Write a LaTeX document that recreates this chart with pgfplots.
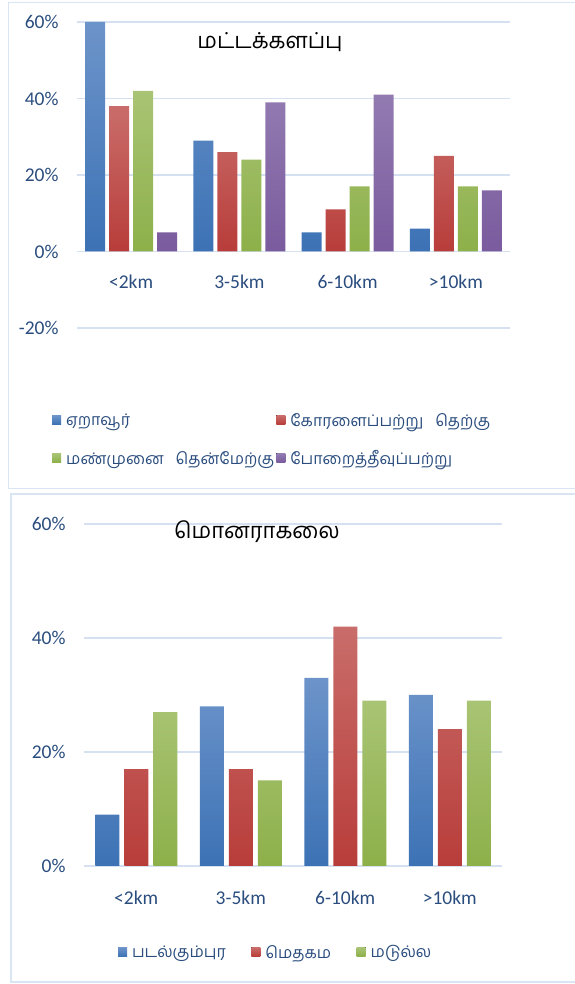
\documentclass[border=0pt]{standalone}
\usepackage{pgfplots}
\pgfplotsset{compat=1.18}
\usepackage{fontspec}
\setmainfont{Carlito}
\newfontfamily\tamilfont[Script=Tamil]{Hind Madurai}
\definecolor{tickcol}{HTML}{2A4D7E}
\definecolor{gridcol}{HTML}{D5E1F1}
\definecolor{bordercol}{HTML}{DAE5F4}
\definecolor{bluet}{HTML}{6D94CA}\definecolor{blueb}{HTML}{3C72B5}
\definecolor{redt}{HTML}{C96D6A}\definecolor{redb}{HTML}{B83D3A}
\definecolor{greent}{HTML}{A9C474}\definecolor{greenb}{HTML}{8DB04A}
\definecolor{purt}{HTML}{927BB1}\definecolor{purb}{HTML}{7A5B9E}
\pgfplotsset{
  sqlegend/.style={legend image code/.code={\fill[##1] (0pt,-4pt) rectangle (9pt,5pt);}},
  excel/.style={
    scale only axis,
    xmin=-0.5, xmax=3.5,
    axis line style={draw=none}, major tick length=0pt,
    xtick={0,1,2,3}, xticklabels={<2km,3-5km,6-10km,>10km},
    ymajorgrids, grid style={gridcol, line width=1.3pt},
    tick label style={font=\fontsize{19.5}{23}\selectfont, text=tickcol},
    yticklabel style={xshift=-15pt},
    legend cell align=left,
  }
}
\begin{document}
\begin{tikzpicture}
\path (0pt,0pt) rectangle (574pt,984pt);
\draw[overlay, bordercol, line width=1.5pt] (8.5pt,981.5pt) rectangle (590pt,495.5pt);
\draw[overlay, bordercol, line width=1.5pt] (11pt,490pt) rectangle (590pt,2pt);

\begin{axis}[excel,
  at={(77pt,656pt)}, anchor=south west, width=433pt, height=306pt,
  ymin=-20, ymax=60,
  ybar=4pt, bar width=20pt,
  ytick={-20,0,20,40,60}, yticklabels={-20\%,0\%,20\%,40\%,60\%},
  xticklabel style={anchor=center, yshift=46pt},
  legend columns=2,
  legend style={draw=none, fill=none, inner sep=0pt, at={(-0.0577,-0.271)}, anchor=north west,
    font=\tamilfont\fontsize{16}{20}\selectfont, text=tickcol, row sep=19pt,
    /tikz/every odd column/.append style={column sep=3pt},
    /tikz/every even column/.append style={column sep=0pt}},
]
\addplot[draw=none, top color=bluet, bottom color=blueb, sqlegend] coordinates {(0,60) (1,29) (2,5) (3,6)};
\addplot[draw=none, top color=redt, bottom color=redb, sqlegend] coordinates {(0,38) (1,26) (2,11) (3,25)};
\addplot[draw=none, top color=greent, bottom color=greenb, sqlegend] coordinates {(0,42) (1,24) (2,17) (3,17)};
\addplot[draw=none, top color=purt, bottom color=purb, sqlegend] coordinates {(0,5) (1,39) (2,41) (3,16)};
\legend{ஏறாவூர், கோரளைப்பற்று\ \ \ தெற்கு, மண்முனை\ \ \ தென்மேற்கு, போறைத்தீவுப்பற்று}
\end{axis}
\node[font=\tamilfont\fontsize{22}{26}\selectfont, text=black] at (270pt,942pt) {மட்டக்களப்பு};

\begin{axis}[excel,
  at={(84pt,118pt)}, anchor=south west, width=418pt, height=342pt,
  ymin=0, ymax=60,
  ybar=5pt, bar width=24pt,
  ytick={0,20,40,60}, yticklabels={0\%,20\%,40\%,60\%},
  xticklabel style={anchor=center, yshift=-32pt},
  legend columns=3,
  legend style={draw=none, fill=none, inner sep=0pt, at={(0.081,-0.225)}, anchor=north west,
    font=\tamilfont\fontsize{16}{20}\selectfont, text=tickcol,
    /tikz/every odd column/.append style={column sep=3pt},
    /tikz/every even column/.append style={column sep=23.5pt}},
]
\addplot[draw=none, top color=bluet, bottom color=blueb, sqlegend] coordinates {(0,9) (1,28) (2,33) (3,30)};
\addplot[draw=none, top color=redt, bottom color=redb, sqlegend] coordinates {(0,17) (1,17) (2,42) (3,24)};
\addplot[draw=none, top color=greent, bottom color=greenb, sqlegend] coordinates {(0,27) (1,15) (2,29) (3,29)};
\legend{படல்கும்புர, மெதகம, மடுல்ல}
\end{axis}
\node[font=\tamilfont\fontsize{22}{26}\selectfont, text=black] at (257pt,452pt) {மொனராகலை};
\end{tikzpicture}
\end{document}
